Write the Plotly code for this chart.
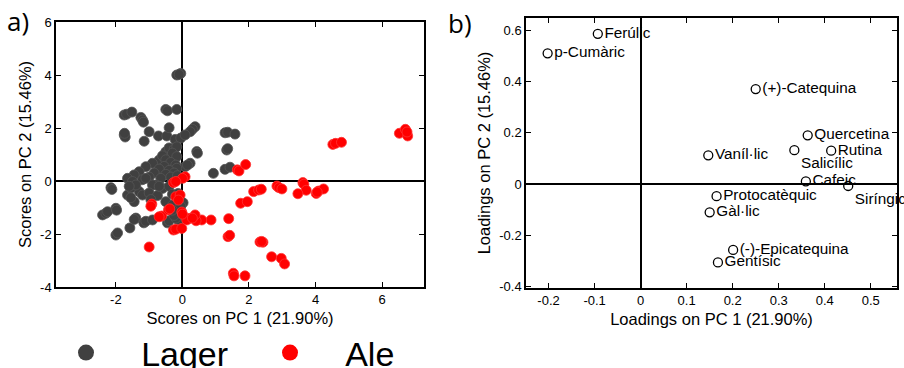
import plotly.graph_objects as go

# ---------------- data ----------------
lager_x = [-0.17, -0.05, -0.10, -1.75, -1.68, -1.52, -1.25, -1.20, -1.17, -0.50, -0.45, -0.17,
           -1.75, -1.72, -1.74, -1.00, -1.15, -0.72, -0.47, -0.40, -0.22, -0.05,
           0.38, 0.30, 0.23, 0.08, 1.28, 1.36, 1.58, 1.33, 1.36, 0.43, 0.45, 0.23, 0.08, 0.15,
           0.93, 1.28, 1.43,
           -0.50, -0.35, -0.70, -0.90, -1.10, -1.30, -1.45, -1.65, -0.60, -0.40, -0.25, -0.17,
           -0.30, -0.17, -0.50, -0.35, -0.20, -0.55, -0.17, -0.40, -0.70, -0.25, -0.50, -0.85,
           -1.00, -0.65, -0.35, -0.15, -1.20,
           -1.50, -1.10, -0.80, -0.60, -1.30, -1.65, -1.45, -1.20, -0.50, -0.30, -1.55, -1.55,
           -0.90, -2.15, -2.12, -1.00, -0.75, -0.40, -0.30, -1.40, -1.60, -0.95, -0.70,
           -0.13, 0.02, -0.05, -0.13, -2.40, -2.30, -2.25, -2.00, -1.98, -2.00, -1.95,
           -1.58, -1.40, -1.45, -1.16, -1.10, -0.90, -0.45, -0.40, -0.20, -0.25, -0.30]
lager_y = [4.00, 4.06, 4.02, 2.49, 2.52, 2.60, 2.40, 2.30, 2.22, 2.70, 2.65, 2.70,
           1.74, 1.66, 1.80, 1.86, 1.50, 1.70, 1.70, 2.01, 1.57, 1.62,
           2.05, 1.95, 1.86, 1.74, 1.82, 1.84, 1.77, 1.17, 1.22, 1.11, 1.05, 0.67, 0.54, 0.60,
           0.29, 0.44, 0.52,
           1.10, 0.92, 0.79, 0.67, 0.54, 0.35, 0.23, 0.10, 0.95, 1.25, 1.20, 1.29,
           1.05, 0.92, 0.80, 0.70, 0.60, 0.55, 0.48, 0.40, 0.45, 0.30, 0.25, 0.30,
           0.15, 0.10, 0.15, 0.20, 0.05,
           -0.02, 0.10, -0.15, -0.28, -0.40, -0.53, -0.78, -0.53, -0.78, -0.91, -0.27, -0.63,
           -0.15, -0.25, -0.32, -0.45, -0.55, -0.20, -0.50, -0.15, -0.20, -0.70, -0.20,
           -0.47, -0.82, -0.95, -1.47, -1.28, -1.22, -1.16, -1.03, -1.10, -2.04, -1.96,
           -1.77, -1.40, -1.45, -1.58, -1.52, -1.47, -1.58, -1.50, -1.40, -1.30, -1.10]

ale_x = [6.52, 6.70, 6.77, 6.75, 4.52, 4.60, 4.78, 1.65, 1.70, 1.90,
         2.84, 2.90, 2.99, 3.62, 3.65, 3.72, 3.47, 4.02, 4.09, 4.24, 4.05,
         2.14, 2.29, 2.37, 1.75, 1.95, 1.39, 1.37, 1.42, 2.33, 2.42, 2.38,
         2.68, 2.97, 3.07, 1.53, 1.55, 1.88,
         0.86, 0.58, 0.41, 0.20, 0.38, 0.13, 0.30, -0.02, 0.00, 0.08, 0.00,
         -0.27, -0.20, -0.20, -0.07, -0.12, -0.92, -0.95, -0.62, -0.70,
         -0.42, -0.38, -0.27, -0.20, -0.02, -1.00]
ale_y = [1.80, 1.95, 1.70, 1.85, 1.38, 1.42, 1.46, 0.42, 0.38, 0.62,
         -0.19, -0.25, -0.30, -0.06, -0.12, -0.35, -0.48, -0.47, -0.38, -0.30, -0.42,
         -0.40, -0.34, -0.31, -0.84, -0.78, -1.42, -2.10, -2.05, -2.30, -2.31, -2.28,
         -2.86, -2.92, -3.13, -3.48, -3.58, -3.58,
         -1.47, -1.47, -1.50, -1.41, -1.28, -1.47, -1.40, -1.17, -1.25, 0.16, 0.10,
         -0.06, -0.02, -0.59, -0.53, -0.72, -0.87, -0.95, -1.32, -1.35,
         -1.09, -1.05, -1.85, -1.82, -1.79, -2.49]

compounds = ["Ferúlic", "p-Cumàric", "(+)-Catequina", "Quercetina", "Salicílic", "Rutina",
             "Vaníl·lic", "Cafeic", "Siríngic", "Protocatèquic", "Gàl·lic",
             "(-)-Epicatequina", "Gentísic"]
load_pc1 = [-0.093, -0.202, 0.250, 0.363, 0.334, 0.414, 0.147, 0.359, 0.451, 0.165, 0.150, 0.201, 0.168]
load_pc2 = [0.587, 0.511, 0.371, 0.190, 0.132, 0.130, 0.112, 0.010, -0.008, -0.048, -0.111, -0.258, -0.307]
label_pos = ["middle right", "middle right", "middle right", "middle right", "bottom right",
             "middle right", "middle right", "middle right", "bottom right", "middle right",
             "middle right", "middle right", "middle right"]

group_names = ["Lager", "Ale"]
group_colors = ["#404040", "#ff0000"]

score_xticks = [-2, 0, 2, 4, 6]
score_xtext = ["-2", "0", "2", "4", "6"]
score_yticks = [-4, -2, 0, 2, 4, 6]
score_ytext = ["-4", "-2", "0", "2", "4", "6"]
load_xticks = [-0.2, -0.1, 0, 0.1, 0.2, 0.3, 0.4, 0.5]
load_xtext = ["-0.2", "-0.1", "0", "0.1", "0.2", "0.3", "0.4", "0.5"]
load_yticks = [-0.4, -0.2, 0, 0.2, 0.4, 0.6]
load_ytext = ["-0.4", "-0.2", "0", "0.2", "0.4", "0.6"]

# ---------------- figure ----------------
W, H = 904, 368
FONT = "Liberation Sans, Arial, sans-serif"
fig = go.Figure()

fig.add_trace(go.Scatter(
    x=lager_x, y=lager_y, mode="markers", name=group_names[0], showlegend=False,
    marker=dict(size=10, color=group_colors[0], line=dict(width=0.8, color="#555555")),
    xaxis="x", yaxis="y"))
fig.add_trace(go.Scatter(
    x=ale_x, y=ale_y, mode="markers", name=group_names[1], showlegend=False,
    marker=dict(size=10, color=group_colors[1], line=dict(width=0.8, color="#ff3333")),
    xaxis="x", yaxis="y"))
# legend-only entries (bigger symbols, as in the reference key)
for nm, col in zip(group_names, group_colors):
    fig.add_trace(go.Scatter(
        x=[None], y=[None], mode="markers", name="\u00a0\u00a0\u00a0\u2009" + nm,
        marker=dict(size=16, color=col), xaxis="x", yaxis="y"))

fig.add_trace(go.Scatter(
    x=load_pc1, y=load_pc2, mode="markers+text", text=compounds, textposition=label_pos,
    textfont=dict(family=FONT, size=15.3, color="black"),
    marker=dict(symbol="circle-open", size=9, color="black", line=dict(width=1.3, color="black")),
    showlegend=False, cliponaxis=False, xaxis="x2", yaxis="y2"))

axis_common = dict(showline=True, linecolor="black", linewidth=1.5, mirror="ticks",
                   ticks="inside", ticklen=5, tickwidth=1, tickcolor="black",
                   showgrid=False, zeroline=True, zerolinecolor="black", zerolinewidth=1.5,
                   tickfont=dict(family=FONT, size=13, color="black"), automargin=False)
title_font = dict(family=FONT, size=16.5, color="black")

fig.update_layout(
    width=W, height=H, margin=dict(l=0, r=0, t=0, b=0, autoexpand=False),
    paper_bgcolor="white", plot_bgcolor="white",
    xaxis=dict(domain=[56 / W, 424 / W], range=[-3.8, 7.26], tickvals=score_xticks,
               ticktext=score_xtext, title=dict(text="Scores on PC 1 (21.90%)", font=title_font, standoff=6),
               anchor="y", **axis_common),
    yaxis=dict(domain=[1 - 287 / H, 1 - 22 / H], range=[-4, 6], tickvals=score_yticks,
               ticktext=score_ytext, title=dict(text="Scores on PC 2 (15.46%)", font=title_font, standoff=4),
               anchor="x", **axis_common),
    xaxis2=dict(domain=[526 / W, 897 / W], range=[-0.249, 0.557], tickvals=load_xticks,
                ticktext=load_xtext, title=dict(text="Loadings on PC 1 (21.90%)", font=title_font, standoff=6),
                anchor="y2", **axis_common),
    yaxis2=dict(domain=[1 - 288 / H, 1 - 18 / H], range=[-0.407, 0.649], tickvals=load_yticks,
                ticktext=load_ytext, title=dict(text="Loadings on PC 2 (15.46%)", font=title_font, standoff=4),
                anchor="x2", **axis_common),
    showlegend=True,
    legend=dict(orientation="h", x=66 / W, xanchor="left", y=(H - 353) / H, yanchor="middle",
                font=dict(family=FONT, size=34, color="black"), itemsizing="trace",
                entrywidth=159, entrywidthmode="pixels", bgcolor="rgba(0,0,0,0)"),
    annotations=[
        dict(text="a)", x=18 / W, y=1 - 21 / H, xref="paper", yref="paper", showarrow=False,
             xanchor="center", yanchor="middle",
             font=dict(family="Open Sans, Noto Sans, sans-serif", size=26, color="black")),
        dict(text="b)", x=460 / W, y=1 - 23 / H, xref="paper", yref="paper", showarrow=False,
             xanchor="center", yanchor="middle",
             font=dict(family="Open Sans, Noto Sans, sans-serif", size=26, color="black")),
    ],
)

fig.write_html("out.html", config={"displayModeBar": False},
               post_script="document.body.style.margin='0';")
